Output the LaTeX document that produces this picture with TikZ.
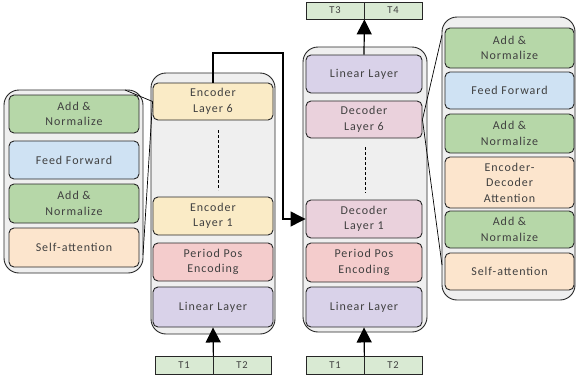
\documentclass[tikz,border=0pt]{standalone}
\usepackage{fontspec}
\setmainfont{Carlito}[LetterSpace=8]
\usepackage{tikz}
\usetikzlibrary{arrows.meta}

\definecolor{addgreen}{HTML}{B6D7A8}
\definecolor{ffblue}{HTML}{CFE2F3}
\definecolor{attnorange}{HTML}{FCE5CD}
\definecolor{encyellow}{HTML}{FAEBC6}
\definecolor{pospink}{HTML}{F4CCCC}
\definecolor{linpurple}{HTML}{D9D2E9}
\definecolor{decpink}{HTML}{EAD1DC}
\definecolor{tokgreen}{HTML}{D9EAD3}
\definecolor{panelgray}{HTML}{EFEFEF}
\definecolor{txtgray}{HTML}{404040}

\begin{document}
\begin{tikzpicture}[x=1pt, y=-1pt,
    panel/.style={draw=black!85, fill=panelgray, line width=0.9pt, rounded corners=15pt, inner sep=0pt},
    blk/.style={draw=black!85, line width=0.9pt, rounded corners=5pt, align=center, text=txtgray,
      font=\fontsize{12}{15.5}\selectfont, inner sep=0pt},
    tok/.style={draw=black!85, fill=tokgreen, line width=0.8pt, minimum width=58pt, minimum height=18pt,
      inner sep=0pt, text=txtgray, font=\fontsize{10.5}{12}\selectfont},
    arr/.style={line width=1.2pt, -{Triangle[length=15pt,width=15pt]}}]

  \useasboundingbox (0,0) rectangle (576,383);

  % Grey panels.
  \node[panel, minimum width=139pt, minimum height=183pt] (encdetail) at (73.5,181.5) {};
  \node[panel, minimum width=124pt, minimum height=261pt] (encstack) at (213,203.5) {};
  \node[panel, minimum width=124pt, minimum height=285pt] (decstack) at (365,189.5) {};
  \node[panel, minimum width=133pt, minimum height=283pt] (decdetail) at (508.5,158.5) {};

  % Encoder layer, opened up.
  \node[blk, fill=addgreen, minimum width=130pt, minimum height=38pt] (addL2) at (74,114) {Add \&\\Normalize};
  \node[blk, fill=ffblue, minimum width=130pt, minimum height=38pt] (ffL) at (74,160) {Feed Forward};
  \node[blk, fill=addgreen, minimum width=130pt, minimum height=39pt] (addL1) at (74,203.5) {Add \&\\Normalize};
  \node[blk, fill=attnorange, minimum width=130pt, minimum height=39pt] (saL) at (74,247.5) {Self-attention};

  % Encoder stack.
  \node[blk, fill=encyellow, minimum width=120pt, minimum height=37pt] (enc6) at (213,101.5) {Encoder\\Layer 6};
  \node[blk, fill=encyellow, minimum width=120pt, minimum height=38pt] (enc1) at (213,216) {Encoder\\Layer 1};
  \node[blk, fill=pospink, minimum width=120pt, minimum height=38pt] (posE) at (213,262) {Period Pos\\Encoding};
  \node[blk, fill=linpurple, minimum width=120pt, minimum height=40pt] (linE) at (213,307) {Linear Layer};
  \draw[line width=0.8pt, dash pattern=on 3pt off 2pt] (218,130) -- (218,190);

  % Decoder stack.
  \node[blk, fill=linpurple, minimum width=116pt, minimum height=38pt] (linOut) at (364,74) {Linear Layer};
  \node[blk, fill=decpink, minimum width=116pt, minimum height=37pt] (dec6) at (364,119.5) {Decoder\\Layer 6};
  \node[blk, fill=decpink, minimum width=116pt, minimum height=38pt] (dec1) at (364,219) {Decoder\\Layer 1};
  \node[blk, fill=pospink, minimum width=116pt, minimum height=39pt] (posD) at (364,262.5) {Period Pos\\Encoding};
  \node[blk, fill=linpurple, minimum width=116pt, minimum height=40pt] (linD) at (364,307) {Linear Layer};
  \draw[line width=0.8pt, dash pattern=on 3pt off 2pt] (365,147) -- (365,193);

  % Decoder layer, opened up.
  \node[blk, fill=addgreen, minimum width=129pt, minimum height=40pt] (addR3) at (509.5,48) {Add \&\\Normalize};
  \node[blk, fill=ffblue, minimum width=129pt, minimum height=37pt] (ffR) at (509.5,90.5) {Feed Forward};
  \node[blk, fill=addgreen, minimum width=129pt, minimum height=39pt] (addR2) at (509.5,133.5) {Add \&\\Normalize};
  \node[blk, fill=attnorange, minimum width=129pt, minimum height=51pt] (edaR) at (509.5,182.5) {Encoder-\\Decoder\\Attention};
  \node[blk, fill=addgreen, minimum width=129pt, minimum height=37pt] (addR1) at (509.5,229.5) {Add \&\\Normalize};
  \node[blk, fill=attnorange, minimum width=129pt, minimum height=37pt] (saR) at (509.5,271.5) {Self-attention};

  % Tokens.
  \node[tok] (t1e) at (184,365.5) {T1};
  \node[tok] (t2e) at (242,365.5) {T2};
  \node[tok] (t1d) at (335,365.5) {T1};
  \node[tok] (t2d) at (393,365.5) {T2};
  \node[tok, minimum height=17pt] (t3) at (335,10.5) {T3};
  \node[tok, minimum height=17pt] (t4) at (393,10.5) {T4};

  % Arrows.
  \draw[arr] (t1e.north east) -- (linE.south);
  \draw[arr] (t1d.north east) -- (linD.south);
  \draw[arr] (linOut.north) -- (t3.south east);
  \coordinate (hop) at (283,53);
  \draw[arr] (enc6.north) |- (hop) |- (dec1.west);

  % Zoom lines.
  \coordinate (lz1) at (125,90);
  \coordinate (lz2) at (143,255);
  \coordinate (rz1) at (442,35);
  \coordinate (rz2) at (442,265);
  \draw[line width=0.7pt] (lz1) -- (enc6.west);
  \draw[line width=0.7pt] (lz2) -- (enc6.west);
  \draw[line width=0.7pt] (dec6.east) -- (rz1);
  \draw[line width=0.7pt] (dec6.east) -- (rz2);

\end{tikzpicture}
\end{document}
